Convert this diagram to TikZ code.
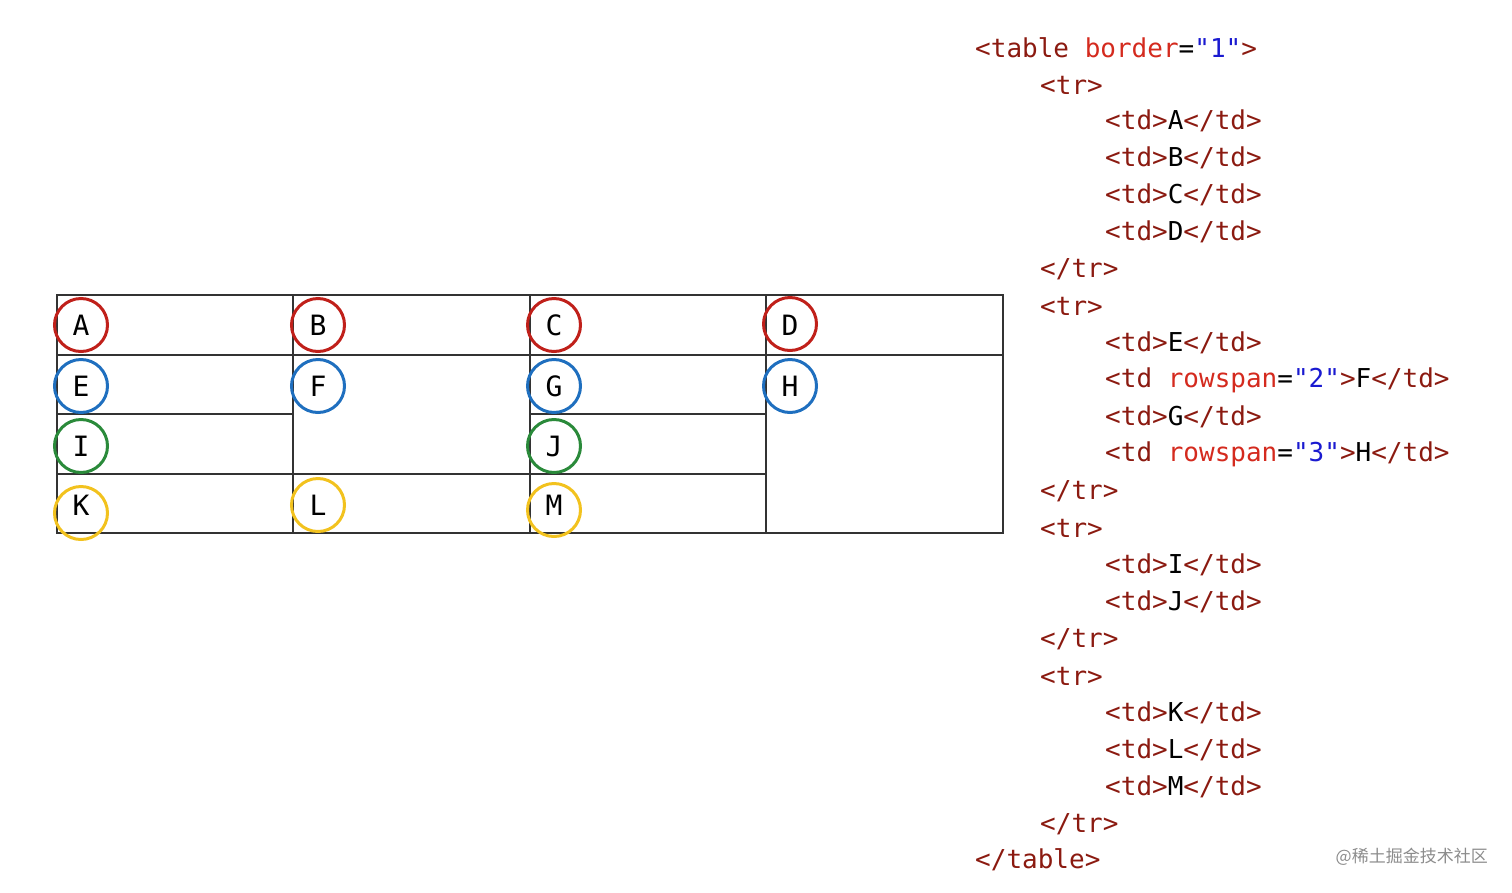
\documentclass[tikz,border=0pt]{standalone}
\usepackage{fontspec}
\newfontfamily\mono{DejaVu Sans Mono}
\newfontfamily\cjk{Noto Sans CJK SC}
\definecolor{tagc}{HTML}{8B1A10}
\definecolor{attc}{HTML}{D42A1E}
\definecolor{valc}{HTML}{1A1AD0}
\definecolor{cred}{HTML}{C0201A}
\definecolor{cblue}{HTML}{1F6FBF}
\definecolor{cgreen}{HTML}{2A8A3A}
\definecolor{cyel}{HTML}{F2C21E}
\newcommand{\tg}[1]{\textcolor{tagc}{#1}}
\newcommand{\at}[1]{\textcolor{attc}{#1}}
\newcommand{\vl}[1]{\textcolor{valc}{#1}}
\begin{document}
\begin{tikzpicture}[x=1pt,y=-1pt,
  code/.style={anchor=west,inner sep=0pt,font=\mono\fontsize{26}{26}\selectfont},
  cell/.style={font=\mono\fontsize{28}{28}\selectfont,inner sep=0pt},
  ring/.style={circle,draw=#1,line width=3pt,minimum size=53pt,inner sep=0pt},
  grid/.style={line width=1.4pt,black!80}]
\useasboundingbox (0,0) rectangle (1512,892);
% table
\draw[grid] (57,295) rectangle (1003,533);
\draw[grid] (57,355) -- (1003,355);
\draw[grid] (57,414) -- (293,414) (530,414) -- (766,414);
\draw[grid] (57,474) -- (766,474);
\draw[grid] (293,295) -- (293,533) (530,295) -- (530,533) (766,295) -- (766,533);
% letters and rings
\foreach \n/\x/\y/\c in {A/81/325/cred,B/318/325/cred,C/554/325/cred,D/790/324/cred,
  E/81/386/cblue,F/318/386/cblue,G/554/386/cblue,H/790/386/cblue,
  I/81/446/cgreen,J/554/446/cgreen,
  K/81/513/cyel,L/318/505/cyel,M/554/510/cyel}{
  \node[ring=\c] (r\n) at (\x,\y) {};
}
\foreach \n/\x/\y in {A/81/325,B/318/325,C/554/325,D/790/325,E/81/386,F/318/386,G/554/386,H/790/386,I/81/446,J/554/446,K/81/505,L/318/505,M/554/505}{
  \node[cell] (t\n) at (\x,\y) {\n};
}
% code
\node[code] (c1) at (975,48) {\tg{<table} \at{border}=\vl{"1"}\tg{>}};
\node[code] (c2) at (1040,85) {\tg{<tr>}};
\node[code] (c3) at (1105,121) {\tg{<td>}A\tg{</td>}};
\node[code] (c4) at (1105,158) {\tg{<td>}B\tg{</td>}};
\node[code] (c5) at (1105,195) {\tg{<td>}C\tg{</td>}};
\node[code] (c6) at (1105,232) {\tg{<td>}D\tg{</td>}};
\node[code] (c7) at (1040,269) {\tg{</tr>}};
\node[code] (c8) at (1040,306) {\tg{<tr>}};
\node[code] (c9) at (1105,343) {\tg{<td>}E\tg{</td>}};
\node[code] (c10) at (1105,380) {\tg{<td} \at{rowspan}=\vl{"2"}\tg{>}F\tg{</td>}};
\node[code] (c11) at (1105,417) {\tg{<td>}G\tg{</td>}};
\node[code] (c12) at (1105,454) {\tg{<td} \at{rowspan}=\vl{"3"}\tg{>}H\tg{</td>}};
\node[code] (c13) at (1040,491) {\tg{</tr>}};
\node[code] (c14) at (1040,528) {\tg{<tr>}};
\node[code] (c15) at (1105,565) {\tg{<td>}I\tg{</td>}};
\node[code] (c16) at (1105,602) {\tg{<td>}J\tg{</td>}};
\node[code] (c17) at (1040,639) {\tg{</tr>}};
\node[code] (c18) at (1040,676) {\tg{<tr>}};
\node[code] (c19) at (1105,713) {\tg{<td>}K\tg{</td>}};
\node[code] (c20) at (1105,750) {\tg{<td>}L\tg{</td>}};
\node[code] (c21) at (1105,787) {\tg{<td>}M\tg{</td>}};
\node[code] (c22) at (1040,824) {\tg{</tr>}};
\node[code] (c23) at (975,860) {\tg{</table>}};
\node[anchor=east,inner sep=0pt,text=black!45,font=\cjk\fontsize{17}{17}\selectfont] (wm) at (1488,857) {@稀土掘金技术社区};
\end{tikzpicture}
\end{document}
